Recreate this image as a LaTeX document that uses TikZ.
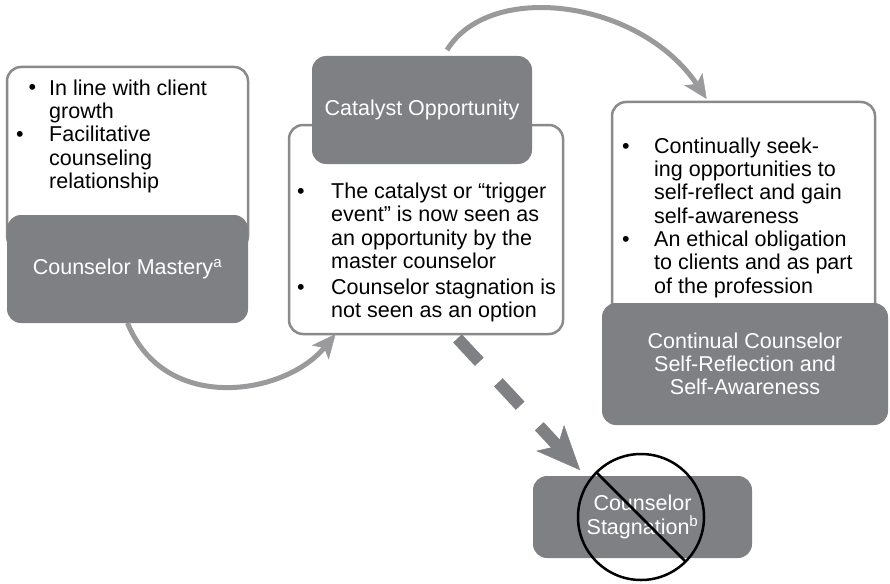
\documentclass[tikz,border=0pt]{standalone}
\usepackage{fontspec}
\setmainfont{Liberation Sans}
\usetikzlibrary{arrows.meta}
\usetikzlibrary{calc}
\definecolor{boxgray}{HTML}{7F8083}
\definecolor{edgegray}{HTML}{8A8A8C}
\definecolor{arrowgray}{HTML}{9A9A9C}
\newcommand{\itemfont}{\fontsize{21.5}{23.3}\selectfont}
\tikzstyle{notebox}=[draw=edgegray, line width=2.5pt, fill=white, rounded corners=14pt, inner sep=0, outer sep=0]
\tikzstyle{titlebox}=[fill=boxgray, rounded corners=14pt, inner sep=0, outer sep=0, text=white, align=center, font=\itemfont]
\tikzstyle{bulletmark}=[anchor=base, inner sep=0, font=\itemfont]
\tikzstyle{itemtext}=[anchor=north west, inner sep=0, align=left, font=\itemfont]
\tikzstyle{flow}=[draw=arrowgray, line width=5pt, -{Stealth[length=24pt, width=22pt, inset=6pt, line width=0.5pt]}]
\tikzstyle{blocked}=[draw=boxgray, line width=12pt, dash pattern=on 32pt off 28pt, -{Stealth[length=44pt, width=38pt, inset=11pt, line width=0.5pt]}]
\begin{document}
\begin{tikzpicture}[x=1pt, y=-1pt]
        \useasboundingbox (0, 0) rectangle (890, 583);
        % left: mastery
        \node[notebox, minimum width=241pt, minimum height=183pt] (masterynote) at (127.5, 158.5) {};
        \node[bulletmark] (mb1) at (32.5, 95) {\textbullet};
        \node[itemtext] (mt1) at (49, 78.7) {\strut In line with client\\growth};
        \node[bulletmark] (mb2) at (20, 141.6) {\textbullet};
        \node[itemtext] (mt2) at (49, 125.3) {\strut Facilitative\\counseling\\relationship};
        \node[titlebox, minimum width=241pt, minimum height=108pt] (mastery) at (127.5, 269) {Counselor Mastery\textsuperscript{a}};
        % middle: catalyst
        \node[notebox, minimum width=274pt, minimum height=209pt] (catalystnote) at (426, 229.5) {};
        \node[bulletmark] (cb1) at (301, 198.3) {\textbullet};
        \node[itemtext] (ct1) at (331, 182) {\strut The catalyst or “trigger\\event” is now seen as\\an opportunity by the\\master counselor};
        \node[bulletmark] (cb2) at (301, 294) {\textbullet};
        \node[itemtext] (ct2) at (331, 277.7) {\strut Counselor stagnation is\\not seen as an option};
        \node[titlebox, minimum width=220pt, minimum height=108pt] (catalyst) at (422, 110) {Catalyst Opportunity};
        % right: self-reflection
        \node[notebox, minimum width=263pt, minimum height=218pt] (reflectnote) at (743.5, 211) {};
        \node[bulletmark] (rb1) at (626, 153) {\textbullet};
        \node[itemtext] (rt1) at (654, 136.7) {\strut Continually seek-\\ing opportunities to\\self-reflect and gain\\self-awareness};
        \node[bulletmark] (rb2) at (626, 246.2) {\textbullet};
        \node[itemtext] (rt2) at (654, 229.9) {\strut An ethical obligation\\to clients and as part\\of the profession};
        \node[titlebox, minimum width=286pt, minimum height=122pt] (reflect) at (745, 364) {Continual Counselor\\Self-Reflection and\\Self-Awareness};
        % bottom: stagnation
        \node[titlebox, minimum width=219pt, minimum height=82pt] (stagnation) at (642.5, 517) {Counselor\\Stagnation\textsuperscript{b}};
        \node[draw=black, line width=2.5pt, circle, minimum size=126pt, inner sep=0, outer sep=0] (noentry) at (641, 517) {};
        \draw[line width=2.5pt] (noentry.135) -- (noentry.-45);
        % arrows
        \draw[flow] (mastery.south) .. controls (165, 415) and (285, 395) .. ($(catalystnote.south west)!0.17!(catalystnote.south east)$);
        \draw[flow] ($(catalyst.north)+(25, -6)$) .. controls (490, -20) and (640, 0) .. ($(reflectnote.north west)!0.36!(reflectnote.north east)+(0, -3)$);
        \draw[blocked, shorten <=6pt, shorten >=8pt] ($(catalystnote.south west)!0.6!(catalystnote.south east)$) -- ($(stagnation.north west)!0.24!(stagnation.north east)$);
\end{tikzpicture}
\end{document}
